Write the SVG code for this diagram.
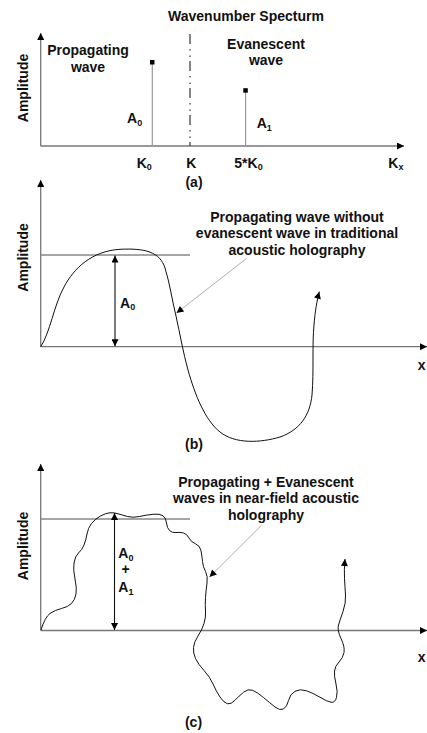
<svg xmlns="http://www.w3.org/2000/svg" width="427" height="733" viewBox="0 0 427 733">
<style>
text{font-family:"Liberation Sans",Arial,sans-serif;font-weight:bold;font-size:14px;fill:#111}
.sub{font-size:9px}
.axis{stroke:#777;stroke-width:1.3;fill:none}
.stem{stroke:#999;stroke-width:1.2;fill:none}
.ref{stroke:#888;stroke-width:1.5;fill:none}
.curve{stroke:#111;stroke-width:1;fill:none}
.lead{stroke:#999;stroke-width:0.8;fill:none}
.dim{stroke:#111;stroke-width:1.1;fill:none}
</style>
<defs>
<marker id="ah" viewBox="0 0 10 10" refX="10" refY="5" markerUnits="userSpaceOnUse" markerWidth="8" markerHeight="7" orient="auto-start-reverse">
<path d="M0,0 L10,5 L0,10 z" fill="#000"/>
</marker>
<marker id="ahc" viewBox="0 0 10 10" refX="10" refY="5" markerUnits="userSpaceOnUse" markerWidth="9" markerHeight="7" orient="auto">
<path d="M0,0 L10,5 L0,10 z" fill="#000"/>
</marker>
</defs>

<g id="panel-a">
<text x="246" y="20.5" text-anchor="middle">Wavenumber Specturm</text>
<line class="axis" x1="40.7" y1="146" x2="40.7" y2="33" marker-end="url(#ah)"/>
<line class="axis" x1="40.7" y1="146" x2="404" y2="146" marker-end="url(#ah)"/>
<text transform="translate(28,88) rotate(-90)" text-anchor="middle">Amplitude</text>
<text x="88" y="55" text-anchor="middle">Propagating</text>
<text x="88" y="71.5" text-anchor="middle">wave</text>
<text x="266" y="49" text-anchor="middle">Evanescent</text>
<text x="266" y="65" text-anchor="middle">wave</text>
<line x1="190" y1="34" x2="190" y2="146" stroke="#444" stroke-width="1.3" stroke-dasharray="10 5 1.5 5 1.5 4"/>
<g id="stem-k0">
<line class="stem" x1="152.3" y1="64" x2="152.3" y2="146"/>
<rect x="150" y="60" width="4.5" height="4.5" fill="#000"/>
<text x="127" y="123">A<tspan class="sub" dy="2.5">0</tspan></text>
</g>
<g id="stem-5k0">
<line class="stem" x1="245.6" y1="92" x2="245.6" y2="146"/>
<rect x="243.3" y="88.2" width="4.5" height="4.5" fill="#000"/>
<text x="256.7" y="128">A<tspan class="sub" dy="2.5">1</tspan></text>
</g>
<text x="136.7" y="167.5">K<tspan class="sub" dy="2.5">0</tspan></text>
<text x="186.2" y="167.5">K</text>
<text x="234.3" y="167.5">5*K<tspan class="sub" dy="2.5">0</tspan></text>
<text x="388.3" y="167.5">K<tspan class="sub" dy="2.5">x</tspan></text>
<text x="194" y="186.5" text-anchor="middle">(a)</text>
</g>

<g id="panel-b">
<line class="axis" x1="40.7" y1="346.7" x2="40.7" y2="180" marker-end="url(#ah)"/>
<line class="axis" x1="40.7" y1="346.7" x2="427" y2="346.7" marker-end="url(#ah)"/>
<text transform="translate(28,257.5) rotate(-90)" text-anchor="middle">Amplitude</text>
<line class="ref" x1="40.7" y1="255" x2="190" y2="255"/>
<line class="dim" x1="115" y1="255.5" x2="115" y2="346.2" marker-start="url(#ah)" marker-end="url(#ah)"/>
<text x="120" y="307.7">A<tspan class="sub" dy="2.5">0</tspan></text>
<path class="curve" d="M40.7,346.7 C50,333 54,305 64,287 C74,268 92,251 120,249.3 C145,248 160,252 165,268 C170,284 172,300 176,316 C180,334 183,352 188,370 C195,395 205,420 220,432 C235,444 260,443 280,437 C300,430 310,415 312,395 C314,370 312,345 314,325 C315,312 317,300 319.3,291.7" marker-end="url(#ahc)"/>
<text x="297" y="221.7" text-anchor="middle">Propagating wave without</text>
<text x="297" y="238.3" text-anchor="middle">evanescent wave in traditional</text>
<text x="297" y="255" text-anchor="middle">acoustic holography</text>
<text x="421.7" y="370" text-anchor="middle">x</text>
<text x="194" y="448.5" text-anchor="middle">(b)</text>
</g>

<g id="panel-c">
<line class="axis" x1="40.7" y1="630.5" x2="40.7" y2="464" marker-end="url(#ah)"/>
<line class="axis" x1="40.7" y1="630.5" x2="427" y2="630.5" marker-end="url(#ah)"/>
<text transform="translate(28,546) rotate(-90)" text-anchor="middle">Amplitude</text>
<line class="ref" x1="40.7" y1="519" x2="190" y2="519"/>
<line class="dim" x1="114.5" y1="513" x2="114.5" y2="630" marker-start="url(#ah)" marker-end="url(#ah)"/>
<text x="118.3" y="558.3">A<tspan class="sub" dy="2.5">0</tspan></text>
<text x="125.7" y="574" text-anchor="middle">+</text>
<text x="118.3" y="592">A<tspan class="sub" dy="2.5">1</tspan></text>
<path class="curve" d="M41,630 Q45,617 50,613.5 Q55,610 61.5,608.5 Q68,607 71.5,603.5 Q75,600 76,594 Q77,588 75,579 Q73,570 74,563 Q75,556 78.5,553 Q82,550 84,545 Q86,540 87,534 Q88,528 91.5,523.5 Q95,519 100.5,516 Q106,513 110,512.75 Q114,512.5 118,513.75 Q122,515 127.5,516.5 Q133,518 139.5,516.5 Q146,515 153,514.25 Q160,513.5 163,515.75 Q166,518 166.5,523 Q167,528 169.5,530.5 Q172,533 176,532.5 Q180,532 183.5,533 Q187,534 189,538 Q191,542 195.5,543.75 Q200,545.5 201,550.75 Q202,556 202.5,561.5 Q203,567 205.5,571.5 Q208,576 207,583 Q206,590 205.5,597.5 Q205,605 205.5,611 Q206,617 204,623.5 Q202,630 198,636 Q194,642 193.5,647.5 Q193,653 195.5,658.5 Q198,664 204,670.5 Q210,677 213,684 Q216,691 220,697 Q224,703 227.5,703.75 Q231,704.5 235,700.25 Q239,696 243.5,692.25 Q248,688.5 252.5,690.25 Q257,692 263.5,697.5 Q270,703 275,707 Q280,711 283.5,709 Q287,707 288.5,700.5 Q290,694 295,691.25 Q300,688.5 306.5,690.75 Q313,693 320,697.25 Q327,701.5 331,702.25 Q335,703 336.5,697.5 Q338,692 336,684 Q334,676 334.5,671 Q335,666 339,662 Q343,658 344,652.5 Q345,647 341,638.5 Q337,630 338.5,625 Q340,620 343,611.5 Q346,603 345.5,595 Q345,587 344.5,578.5 Q344,570 345,559" marker-end="url(#ahc)"/>
<text x="266" y="486.7" text-anchor="middle">Propagating + Evanescent</text>
<text x="266" y="503.3" text-anchor="middle">waves in near-field acoustic</text>
<text x="266" y="520" text-anchor="middle">holography</text>
<text x="421.7" y="661.7" text-anchor="middle">x</text>
<text x="193.5" y="727" text-anchor="middle">(c)</text>
</g>

<g id="connectors">
<line class="lead" x1="246.7" y1="258.3" x2="176.5" y2="313" marker-end="url(#ahc)"/>
<line class="lead" x1="261.7" y1="525" x2="209.5" y2="577" marker-end="url(#ahc)"/>
</g>
</svg>
